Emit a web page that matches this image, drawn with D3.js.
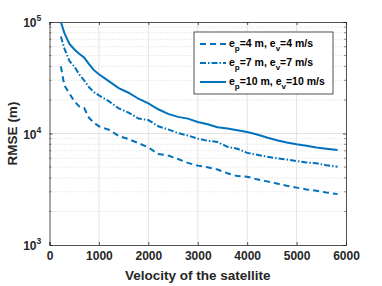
<!DOCTYPE html>
<html>
<head>
<meta charset="utf-8">
<script src="https://cdn.jsdelivr.net/npm/d3@7"></script>
<style>
  body { margin: 0; background: #fff; }
  svg { display: block; font-family: "Liberation Sans", Arial, sans-serif; }
</style>
</head>
<body>
<div class="chart"></div>
<script>
const width = 382, height = 286;

// velocity samples (shared by all three curves)
const velocity = [230, 300, 400, 500, 600, 700, 800, 900, 1000, 1200, 1400, 1600, 1800, 2000,
  2200, 2400, 2600, 2800, 3000, 3200, 3400, 3600, 3800, 4000, 4200, 4400, 4600, 4800,
  5000, 5200, 5400, 5600, 5830];

const rmse4 = [40000, 27000, 23000, 19500, 17500, 17000, 13800, 12500, 11600, 10800, 9500, 8900, 8200, 7500,
  6550, 6350, 5900, 5450, 5150, 4980, 4750, 4400, 4150, 4100, 3880, 3720, 3560, 3400,
  3270, 3150, 3070, 2960, 2860];
const rmse7 = [74000, 58000, 45000, 40000, 34000, 30000, 26000, 23500, 22000, 19500, 16800, 15400, 13600, 13200,
  11600, 10900, 10100, 9600, 9000, 8600, 8400, 7600, 7300, 6700, 6450, 6200, 6000, 5850,
  5650, 5500, 5400, 5200, 5030];
const rmse10 = [100000, 80000, 64000, 57000, 52000, 48000, 42000, 37000, 34000, 29500, 25500, 23200, 20500, 18600,
  16500, 15000, 14100, 13600, 12700, 12100, 11400, 11100, 10700, 10300, 9800, 9200, 8700, 8300,
  8000, 7750, 7500, 7300, 7100];

const xTicks = [0, 1000, 2000, 3000, 4000, 5000, 6000];
const yTicks = [1e3, 1e4, 1e5];
const yExp = ["3", "4", "5"];

const series = [
  {p: "4", v: "4", values: rmse4, dash: "6,4"},
  {p: "7", v: "7", values: rmse7, dash: "6,2,1.5,2"},
  {p: "10", v: "10", values: rmse10, dash: null}
];

const margin = {top: 22, right: 36, bottom: 41, left: 49.5};
const color = "#0072BD", axisColor = "#262626";

const svg = d3.select(".chart")
    .append("svg")
    .attr("width", width)
    .attr("height", height);

const x = d3.scaleLinear()
    .domain([0, 6000])
    .range([margin.left, width - margin.right]);
const y = d3.scaleLog()
    .domain([1e3, 1e5])
    .range([height - margin.bottom, margin.top]);

// grid
const minorY = [];
for (let e = 3; e < 5; e++) {
  for (let k = 2; k <= 9; k++) minorY.push(k * Math.pow(10, e));
}
svg.append("g").selectAll("line")
    .data(minorY)
    .join("line")
    .attr("x1", x(0)).attr("x2", x(6000))
    .attr("y1", d => y(d)).attr("y2", d => y(d))
    .attr("stroke", "#d0d0d0")
    .attr("stroke-width", 0.8)
    .attr("stroke-dasharray", "1,2");
svg.append("g").selectAll("line")
    .data(yTicks.slice(1, -1))
    .join("line")
    .attr("x1", x(0)).attr("x2", x(6000))
    .attr("y1", d => y(d)).attr("y2", d => y(d))
    .attr("stroke", "#e3e3e3");
svg.append("g").selectAll("line")
    .data(xTicks.slice(1, -1))
    .join("line")
    .attr("x1", d => x(d)).attr("x2", d => x(d))
    .attr("y1", y(1e3)).attr("y2", y(1e5))
    .attr("stroke", "#e3e3e3");

// axes
const xAxis = svg.append("g")
    .attr("transform", `translate(0,${y(1e3)})`)
    .call(d3.axisBottom(x).tickValues(xTicks).tickSize(-3).tickPadding(6).tickFormat(d3.format("d")));
const xTop = svg.append("g")
    .attr("transform", `translate(0,${y(1e5)})`)
    .call(d3.axisTop(x).tickValues(xTicks).tickSize(-3).tickFormat(""));
const yAxis = svg.append("g")
    .attr("transform", `translate(${x(0)},0)`)
    .call(d3.axisLeft(y).tickValues(yTicks).tickSize(-3).tickFormat(""));
const yRight = svg.append("g")
    .attr("transform", `translate(${x(6000)},0)`)
    .call(d3.axisRight(y).tickValues(yTicks).tickSize(-3).tickFormat(""));

[xAxis, xTop, yAxis, yRight].forEach(g => {
  g.select(".domain").attr("stroke", axisColor).attr("stroke-width", 0.8);
  g.selectAll(".tick line").attr("stroke", axisColor).attr("stroke-width", 0.8);
});
xAxis.selectAll(".tick text")
    .attr("fill", axisColor)
    .attr("font-size", 12)
    .attr("font-weight", "bold")
    .attr("font-family", "Liberation Sans, Arial, sans-serif");

// minor y ticks
[x(0), x(6000)].forEach((px, i) => {
  svg.append("g").selectAll("line")
      .data(minorY)
      .join("line")
      .attr("x1", px).attr("x2", i === 0 ? px + 1.8 : px - 1.8)
      .attr("y1", d => y(d)).attr("y2", d => y(d))
      .attr("stroke", axisColor)
      .attr("stroke-width", 0.6);
});

// y tick labels 10^n
svg.append("g").selectAll("text")
    .data(yTicks)
    .join("text")
    .attr("x", x(0) - 13)
    .attr("y", d => y(d) + 5)
    .attr("text-anchor", "end")
    .attr("fill", axisColor)
    .attr("font-size", 12)
    .attr("font-weight", "bold")
    .text("10");
svg.append("g").selectAll("text")
    .data(yTicks)
    .join("text")
    .attr("x", x(0) - 13)
    .attr("y", d => y(d) - 1)
    .attr("fill", axisColor)
    .attr("font-size", 8.5)
    .attr("font-weight", "bold")
    .text((d, i) => yExp[i]);

// axis titles
svg.append("text")
    .attr("x", (x(0) + x(6000)) / 2)
    .attr("y", height - 6)
    .attr("text-anchor", "middle")
    .attr("fill", axisColor)
    .attr("font-size", 13.5)
    .attr("font-weight", "bold")
    .text("Velocity of the satellite");
svg.append("text")
    .attr("transform", `translate(17,${(y(1e3) + y(1e5)) / 2}) rotate(-90)`)
    .attr("text-anchor", "middle")
    .attr("fill", axisColor)
    .attr("font-size", 13.5)
    .attr("font-weight", "bold")
    .text("RMSE (m)");

// curves
const line = d3.line()
    .x((d, i) => x(velocity[i]))
    .y(d => y(d));
svg.append("g").selectAll("path")
    .data(series)
    .join("path")
    .attr("d", d => line(d.values))
    .attr("fill", "none")
    .attr("stroke", color)
    .attr("stroke-width", 2)
    .attr("stroke-dasharray", d => d.dash);

// legend
const lg = svg.append("g").attr("transform", "translate(194,32)");
lg.append("rect")
    .attr("width", 139).attr("height", 62)
    .attr("fill", "#fff")
    .attr("stroke", axisColor)
    .attr("stroke-width", 0.8);
const item = lg.selectAll("g")
    .data(series)
    .join("g")
    .attr("transform", (d, i) => `translate(0,${12 + i * 19})`);
item.append("line")
    .attr("x1", 6).attr("x2", 32)
    .attr("stroke", color)
    .attr("stroke-width", 2)
    .attr("stroke-dasharray", d => d.dash);
const t = item.append("text")
    .attr("x", 35)
    .attr("y", 3)
    .attr("fill", "#000")
    .attr("font-size", 10.5)
    .attr("font-weight", "bold");
t.append("tspan").text("e");
t.append("tspan").attr("dy", 4).attr("font-size", 8).text("p");
t.append("tspan").attr("dy", -4).text(d => "=" + d.p + " m, e");
t.append("tspan").attr("dy", 4).attr("font-size", 8).text("v");
t.append("tspan").attr("dy", -4).text(d => "=" + d.v + " m/s");
</script>
</body>
</html>
